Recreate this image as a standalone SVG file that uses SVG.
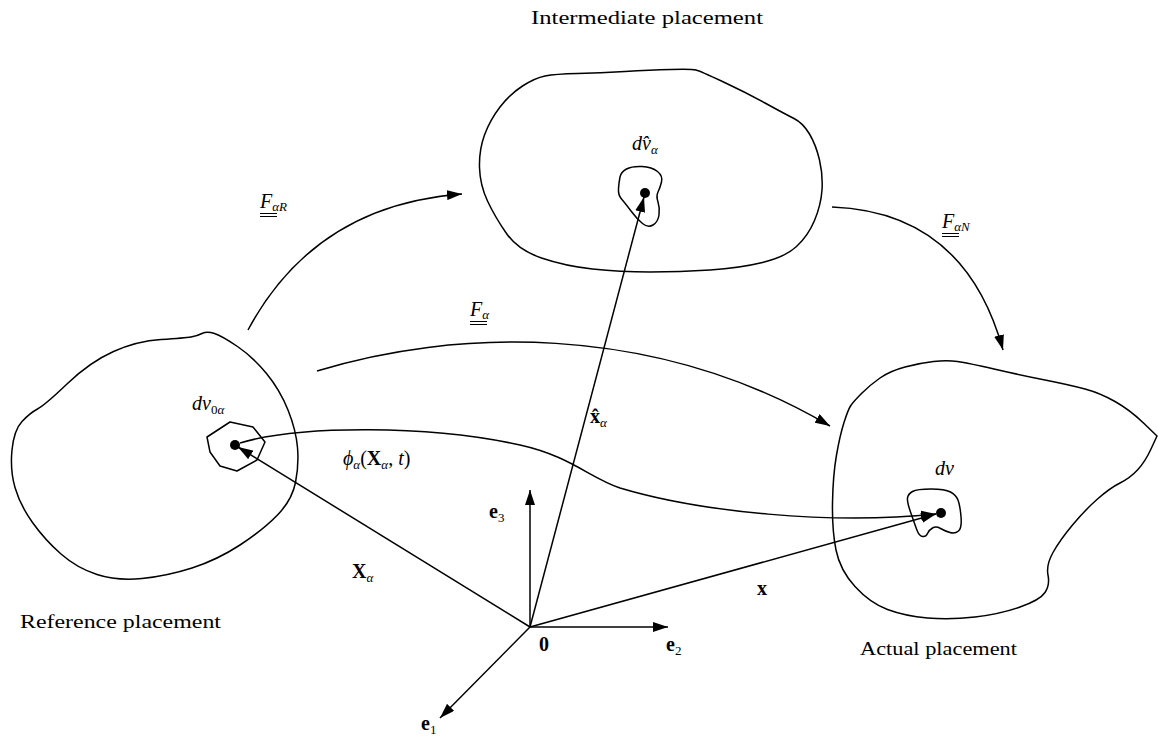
<svg xmlns="http://www.w3.org/2000/svg" width="1158" height="738" viewBox="0 0 1158 738">
<defs>
<marker id="ah" markerUnits="userSpaceOnUse" markerWidth="16" markerHeight="10" refX="15" refY="5" orient="auto">
<path d="M0,0 L15,5 L0,10 z" fill="#000"/>
</marker>
<style>
.blob{fill:none;stroke:#000;stroke-width:1.5;stroke-linejoin:round}
.con{fill:none;stroke:#000;stroke-width:1.5;marker-end:url(#ah)}
.ul{stroke:#000;stroke-width:1}
text{font-family:"Liberation Serif","DejaVu Serif",serif;fill:#000}
.t{font-size:18px}
.m{font-size:20px;font-style:italic}
.b{font-weight:bold;font-style:normal}
.s{font-size:13px}
</style>
</defs>
<rect width="1158" height="738" fill="#fff"/>

<g id="reference">
<path class="blob" d="M191,337 Q197,336 202,333.5 Q207,331 214.5,333.5 Q222,336 237.5,346.5 Q253,357 266.5,373.5 Q280,390 288,410 Q296,430 297.5,447.5 Q299,465 295.5,482.5 Q292,500 277.5,515 Q263,530 240,545 Q217,560 192,568 Q167,576 142,578.5 Q117,581 97,574.5 Q77,568 61,554 Q45,540 32.5,522.5 Q20,505 15,487.5 Q10,470 12,450 Q14,430 22,421.5 Q30,413 37.5,409 Q45,405 67.5,383.5 Q90,362 113.5,351.5 Q137,341 161,339.5 Q185,338 191,337 Z"/>
<path class="blob" d="M207,437 L230,422 L253,427 L265,442 L257,460 L237,471 L220,466 L210,452 Z"/>
<circle cx="235" cy="445" r="5"/>
<text class="m" x="192" y="410">dv<tspan class="s" dy="4" font-style="normal">0</tspan><tspan class="s">α</tspan></text>
<text class="t" x="20" y="628" textLength="201" lengthAdjust="spacingAndGlyphs">Reference placement</text>
</g>

<g id="intermediate">
<path class="blob" d="M577.5,73.5 Q600,73 625,71.5 Q650,70 671,69.5 Q692,69 696,70 Q700,71 722.5,81.5 Q745,92 765,103 Q785,114 794,118.5 Q803,123 809.5,134 Q816,145 819.5,160 Q823,175 822,190 Q821,205 814.5,220.5 Q808,236 796.5,246.5 Q785,257 762.5,262.5 Q740,268 710,270 Q680,272 650,272 Q620,272 592.5,269 Q565,266 541.5,258 Q518,250 506.5,233.5 Q495,217 487.5,201 Q480,185 479.5,167.5 Q479,150 484.5,135 Q490,120 500,107 Q510,94 522.5,86 Q535,78 545,76 Q555,74 577.5,73.5 Z"/>
<path class="blob" d="M626.5,169 Q632,166 642,166.5 Q652,167 657.5,171.5 Q663,176 661.5,182 Q660,188 658,192 Q656,196 658,202 Q660,208 659,215 Q658,222 653,225 Q648,228 642.5,223.5 Q637,219 631,211 Q625,203 621.5,199 Q618,195 618.5,188.5 Q619,182 620,177 Q621,172 626.5,169 Z"/>
<circle cx="645" cy="193" r="5"/>
<text class="m" x="632" y="150">dv̂<tspan class="s" dy="4">α</tspan></text>
<text class="t" x="531" y="24" textLength="232" lengthAdjust="spacingAndGlyphs">Intermediate placement</text>
</g>

<g id="actual">
<path class="blob" d="M861.5,393.5 Q870,385 880,378 Q890,371 905,367 Q920,363 933.5,361.5 Q947,360 957.5,361.5 Q968,363 994,369 Q1020,375 1045,380 Q1070,385 1085,389 Q1100,393 1115,401.5 Q1130,410 1143.5,423 Q1157,436 1157,436 Q1157,436 1151,449 Q1145,462 1137.5,470 Q1130,478 1120,483 Q1110,488 1097.5,499 Q1085,510 1072.5,525 Q1060,540 1053,552.5 Q1046,565 1048,575 Q1050,585 1045,592.5 Q1040,600 1020,607 Q1000,614 975,617 Q950,620 927.5,618 Q905,616 887.5,609.5 Q870,603 855,586.5 Q840,570 836,550 Q832,530 832.5,502.5 Q833,475 836.5,455 Q840,435 844,422.5 Q848,410 850.5,406 Q853,402 861.5,393.5 Z"/>
<path class="blob" d="M912.5,491.5 Q917,489 931,489 Q945,489 950.5,492 Q956,495 958,500 Q960,505 961,516.5 Q962,528 958.5,531 Q955,534 950,532.5 Q945,531 940.5,528.5 Q936,526 932.5,528 Q929,530 927.5,533.5 Q926,537 922.5,536.5 Q919,536 916.5,529 Q914,522 910.5,512 Q907,502 907.5,498 Q908,494 912.5,491.5 Z"/>
<circle cx="941" cy="513" r="5"/>
<text class="m" x="935" y="475">dv</text>
<text class="t" x="860" y="655" textLength="157" lengthAdjust="spacingAndGlyphs">Actual placement</text>
</g>

<g id="axes">
<line class="con" x1="530" y1="627" x2="530" y2="490"/>
<line class="con" x1="530" y1="627" x2="668" y2="627"/>
<line class="con" x1="530" y1="627" x2="440" y2="718"/>
<text class="m b" x="489" y="518">e<tspan class="s" dy="4" font-weight="normal">3</tspan></text>
<text class="m b" x="666" y="651">e<tspan class="s" dy="4" font-weight="normal">2</tspan></text>
<text class="m b" x="421" y="730">e<tspan class="s" dy="4" font-weight="normal">1</tspan></text>
<text class="m b" x="539" y="651">0</text>
</g>

<g id="connectors">
<path class="con" d="M248,330 Q315,205 462,194"/>
<path class="con" d="M832,207 Q965,212 1003,350"/>
<path class="con" d="M317,371 C450,330 650,320 830,426"/>
<path class="con" d="M240,443 C300,425 430,425 520,445 C570,456 590,478 620,488 C700,512 830,525 936,514"/>
<line class="con" x1="530" y1="627" x2="238" y2="447"/>
<line class="con" x1="530" y1="627" x2="644" y2="197"/>
<line class="con" x1="530" y1="627" x2="936" y2="514"/>
</g>

<g id="labels">
<text class="m" x="260" y="208">F<tspan class="s" dy="3">αR</tspan></text>
<line class="ul" x1="260" y1="213.5" x2="277" y2="213.5"/>
<line class="ul" x1="260" y1="216.5" x2="277" y2="216.5"/>
<text class="m" x="942" y="228">F<tspan class="s" dy="3">αN</tspan></text>
<line class="ul" x1="942" y1="233.5" x2="959" y2="233.5"/>
<line class="ul" x1="942" y1="236.5" x2="959" y2="236.5"/>
<text class="m" x="470" y="316">F<tspan class="s" dy="3">α</tspan></text>
<line class="ul" x1="470" y1="321.5" x2="487" y2="321.5"/>
<line class="ul" x1="470" y1="324.5" x2="487" y2="324.5"/>
<text class="m" x="343" y="465">ϕ<tspan class="s" dy="4">α</tspan><tspan dy="-4" font-style="normal">(</tspan><tspan font-weight="bold" font-style="normal">X</tspan><tspan class="s" dy="4">α</tspan><tspan dy="-4" font-style="normal">, </tspan>t<tspan font-style="normal">)</tspan></text>
<text class="m b" x="590" y="423">x̂<tspan class="s" dy="4" font-weight="normal" font-style="italic">α</tspan></text>
<text class="m b" x="352" y="578">X<tspan class="s" dy="4" font-weight="normal" font-style="italic">α</tspan></text>
<text class="m b" x="757" y="595">x</text>
</g>
</svg>
